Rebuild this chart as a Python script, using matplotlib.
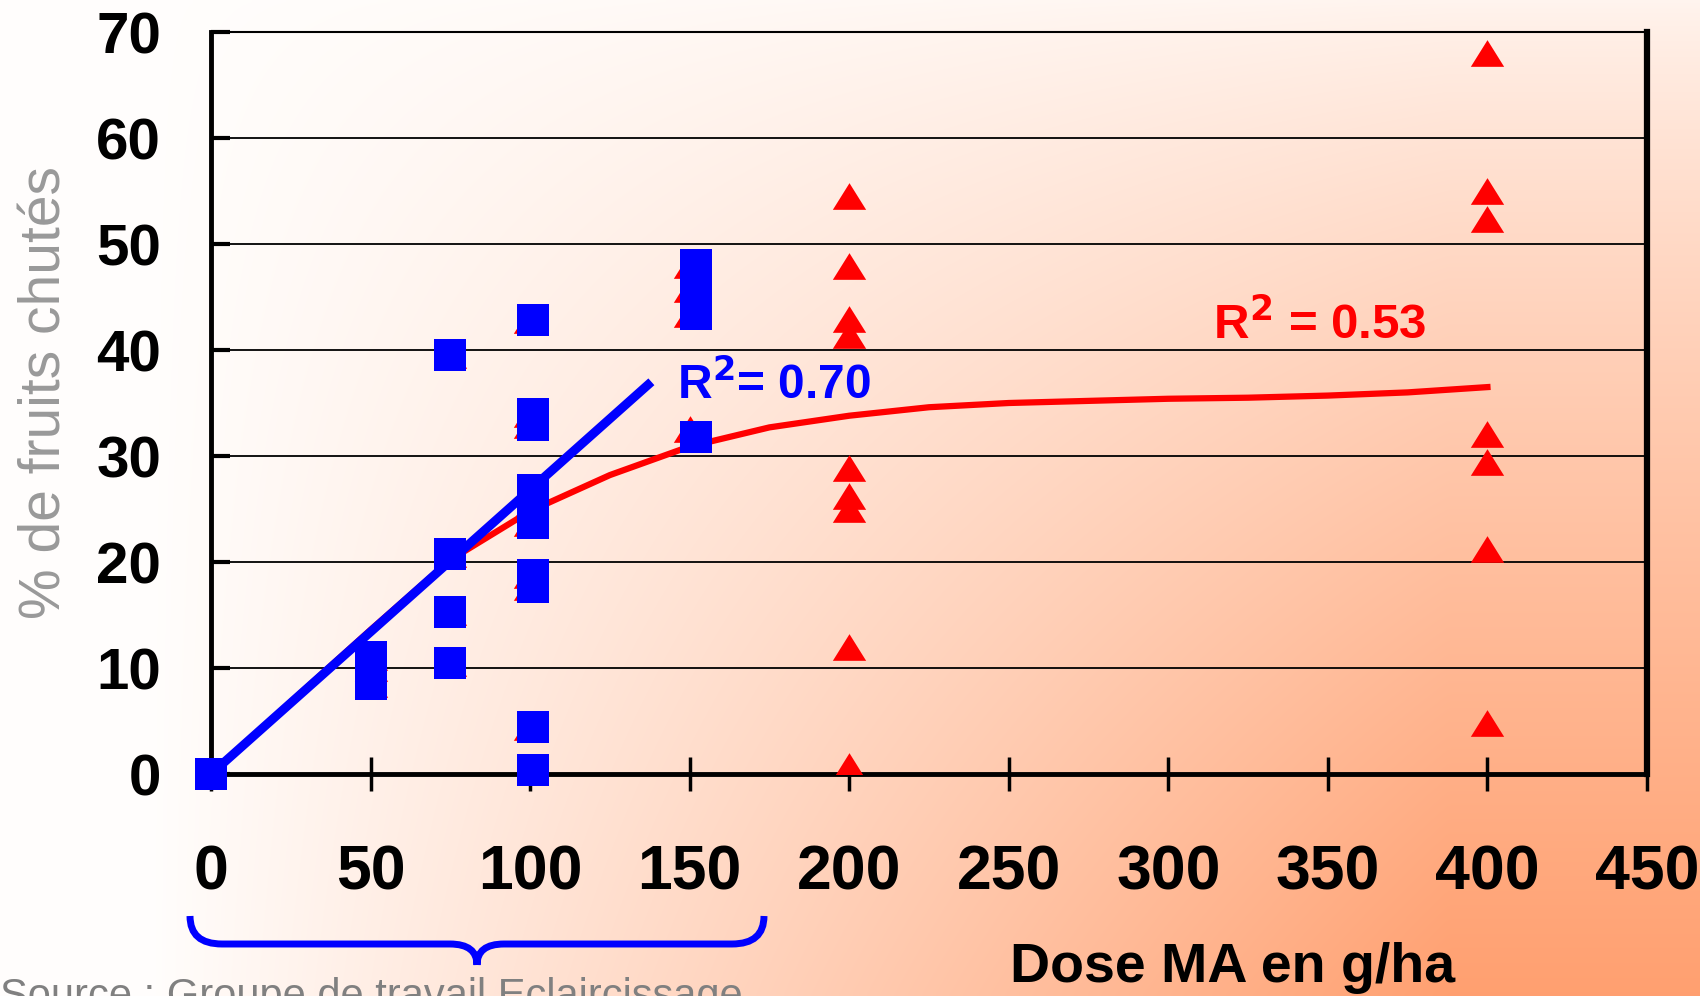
import matplotlib
matplotlib.use("Agg")
import matplotlib.pyplot as plt
from matplotlib.path import Path
from matplotlib.patches import PathPatch
import numpy as np

# data
sq_x = [0, 50, 50, 50, 75, 75, 75, 75,
        101, 101, 101, 101, 101, 101, 101, 101, 101, 101,
        152, 152, 152, 152]
sq_y = [0, 8.5, 10, 11, 39.5, 20.8, 15.3, 10.5,
        42.8, 34, 32.9, 26.8, 25.3, 23.7, 18.8, 17.6, 4.4, 0.4,
        48, 45.8, 43.4, 31.8]

tri_x = [0, 50, 50, 50, 75, 75, 75, 75,
         100, 100, 100, 100, 100, 100, 100, 100, 100, 100,
         150, 150, 150, 150,
         200, 200, 200, 200, 200, 200, 200, 200, 200,
         400, 400, 400, 400, 400, 400, 400]
tri_y = [0, 8.5, 10, 11, 39.5, 20.8, 15.3, 10.5,
         42.8, 34, 32.9, 26.8, 25.3, 23.7, 18.8, 17.6, 4.4, 0.4,
         48, 45.8, 43.4, 32.5,
         54.5, 47.9, 42.9, 41.4, 28.9, 26.2, 25, 12, 0.8,
         68, 55, 52.4, 32.1, 29.4, 21.2, 4.8]

# fitted curves
red_fit_x = [0, 25, 50, 75, 100, 125, 150, 175, 200, 225, 250, 275, 300, 325, 350, 375, 400]
red_fit_y = [0, 6.8, 13.6, 20.2, 24.8, 28.2, 30.9, 32.7, 33.8, 34.6, 35.0, 35.2, 35.4,
             35.5, 35.7, 36.0, 36.5]
blue_fit_x = [0, 138]
blue_fit_y = [0, 37]

xticks = [0, 50, 100, 150, 200, 250, 300, 350, 400, 450]
yticks = [0, 10, 20, 30, 40, 50, 60, 70]

W, H = 1700, 996
fig = plt.figure(figsize=(17, 9.96), dpi=100)

# background gradient
bg = fig.add_axes([0, 0, 1, 1], zorder=-10)
gx, gy = np.meshgrid(np.linspace(0, 1, 400), np.linspace(0, 1, 240))
t = np.clip((gx * W - 150) / 1300, 0, 1) * (0.1 + 0.9 * gy ** 0.8)
white = np.array([1.0, 0.995, 0.99])
orange = np.array([1.0, 0.627, 0.44])
img = white[None, None, :] * (1 - t[..., None]) + orange[None, None, :] * t[..., None]
bg.imshow(img, extent=[0, W, H, 0], aspect="auto", interpolation="bilinear")
bg.set_xlim(0, W)
bg.set_ylim(H, 0)
bg.axis("off")

# blue brace under 0-150
codes = [Path.MOVETO, Path.CURVE3, Path.CURVE3, Path.LINETO,
         Path.CURVE3, Path.CURVE3, Path.MOVETO,
         Path.CURVE3, Path.CURVE3, Path.LINETO,
         Path.CURVE3, Path.CURVE3, Path.LINETO]
verts = [(190, 916), (190, 944), (222, 944), (450, 944),
         (477, 944), (477, 965),
         (477, 965), (477, 944), (504, 944), (732, 944),
         (764, 944), (764, 916), (764, 916)]
bg.add_patch(PathPatch(Path(verts, codes), fill=False, ec="#0000ff", lw=5))

ax = fig.add_axes([211 / W, 1 - 774 / H, (1647 - 211) / W, (774 - 32) / H])
ax.set_facecolor("none")

ax.plot(red_fit_x, red_fit_y, color="#ff0000", lw=4.5, zorder=3)
tri = [(-1, -0.8), (1, -0.8), (0, 0.8)]
ax.plot(tri_x, tri_y, ls="none", marker=tri, ms=24, color="#ff0000", mew=0, zorder=4)
ax.plot(blue_fit_x, blue_fit_y, color="#0000ff", lw=6.5, solid_capstyle="butt", zorder=5)
ax.plot(sq_x, sq_y, ls="none", marker="s", ms=23, color="#0000ff", mew=0, zorder=6,
        clip_on=False)

ax.set_xlim(0, 450)
ax.set_ylim(0, 70)
ax.set_xticks(xticks)
ax.set_yticks(yticks)
ax.yaxis.grid(True, color="black", lw=1.3)
ax.set_axisbelow(True)

ax.spines["left"].set_linewidth(3.5)
ax.spines["bottom"].set_linewidth(3.5)
ax.spines["right"].set_linewidth(4.5)
ax.spines["top"].set_linewidth(1.5)

ax.tick_params(axis="y", direction="in", length=14, width=3, pad=36)
ax.tick_params(axis="x", direction="inout", length=24, width=2.5, pad=38)
for lab in ax.get_yticklabels():
    lab.set_fontfamily("Liberation Sans")
    lab.set_fontweight("bold")
    lab.set_fontsize(42)
for lab in ax.get_xticklabels():
    lab.set_fontfamily("Liberation Sans")
    lab.set_fontweight("bold")
    lab.set_fontsize(45)

ax.text(146, 36.7, "R$^\\mathbf{2}$= 0.70", color="#0000ff", fontsize=34.5,
        fontweight="bold", family="Liberation Sans", va="center", ha="left")
ax.text(314, 42.4, "R$^\\mathbf{2}$ = 0.53", color="#ff0000", fontsize=35.5,
        fontweight="bold", family="Liberation Sans", va="center", ha="left")

fig.text(46 / W, 1 - 393 / H, "% de fruits chutés", rotation=90, color="#999999",
         fontsize=41, family="Liberation Sans", ha="center", va="center")
fig.text(1233 / W, 1 - 968 / H, "Dose MA en g/ha", color="black", fontsize=40,
         fontweight="bold", family="Liberation Sans", ha="center", va="center")
fig.text(0, 1 - 977 / H, "Source : Groupe de travail Eclaircissage", color="#808080",
         fontsize=30, family="Liberation Sans", ha="left", va="top")

fig.savefig("out.png", dpi=100)
